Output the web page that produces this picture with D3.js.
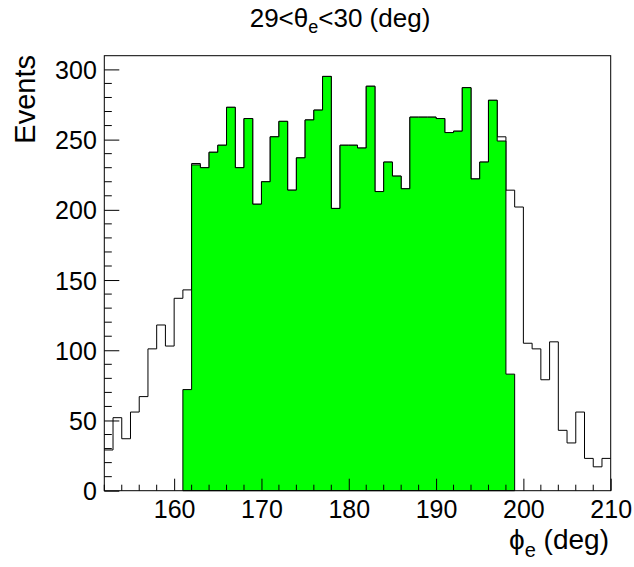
<!DOCTYPE html>
<html>
<head>
<meta charset="utf-8">
<script src="https://cdn.jsdelivr.net/npm/d3@7"></script>
<style>
  body { margin: 0; background: #fff; }
  svg text { font-family: "Liberation Sans", Arial, Helvetica, sans-serif; fill: #000; }
</style>
</head>
<body>
<div id="paint_zone"></div>
<script>
// bin lower edges (1 deg bins) and counts, all events
var phiLow = [152,153,154,155,156,157,158,159,160,161,162,163,164,165,166,167,168,169,170,171,
              172,173,174,175,176,177,178,179,180,181,182,183,184,185,186,187,188,189,190,191,
              192,193,194,195,196,197,198,199,200,201,202,203,204,205,206,207,208,209];
var allCounts = [29,52,37,56,67,101,118,103,137,143,233,230,241,246,273,230,265,204,220,252,
                 263,214,237,264,271,295,201,246,246,244,288,213,234,224,215,266,266,266,265,255,
                 256,287,222,234,278,252,214,202,105,101,79,106,43,34,56,23,17,23];

// events passing the cut (green)
var cutLow = [161,162,163,164,165,166,167,168,169,170,171,172,173,174,175,176,177,178,179,180,
              181,182,183,184,185,186,187,188,189,190,191,192,193,194,195,196,197,198];
var cutCounts = [72,232,230,241,246,273,230,265,204,220,252,263,214,237,264,271,295,201,246,246,
                 244,288,213,234,224,215,266,266,266,265,255,256,287,222,234,278,249,83];

var binWidth = 1;
var xRange = [152, 210];
var xMajor = [160,170,180,190,200,210];
var yMajor = [0,50,100,150,200,250,300];

var width = 634, height = 567;
// pad frame (note: "top" is reserved on window)
var frameL = 104.3, frameR = 610.7, frameT = 55.7, frameB = 490.7;

var svg = d3.select('#paint_zone').append('svg')
    .attr('width', width)
    .attr('height', height);

var x = d3.scaleLinear().domain(xRange).range([frameL, frameR]);
var y = d3.scaleLinear().domain([0, d3.max(allCounts) * 1.05]).range([frameB, frameT]);

function steps(lows, counts){
    var pts = [];
    lows.forEach(function(lo, i){
        pts.push([lo, counts[i]]);
        pts.push([lo + binWidth, counts[i]]);
    });
    return pts;
}

var line = d3.line().x(function(d){ return x(d[0]); }).y(function(d){ return y(d[1]); });

// outline histogram
svg.append('path')
    .attr('d', line(steps(phiLow, allCounts)))
    .attr('fill', 'none')
    .attr('stroke', '#000')
    .attr('stroke-width', 1);

// filled histogram
var cutPts = steps(cutLow, cutCounts);
cutPts.unshift([cutLow[0], 0]);
cutPts.push([cutLow[cutLow.length - 1] + binWidth, 0]);
svg.append('path')
    .attr('d', line(cutPts) + 'Z')
    .attr('fill', '#00ff00')
    .attr('stroke', '#000')
    .attr('stroke-width', 1);

// frame
svg.append('rect')
    .attr('x', frameL).attr('y', frameT)
    .attr('width', frameR - frameL).attr('height', frameB - frameT)
    .attr('fill', 'none').attr('stroke', '#000').attr('stroke-width', 1);

// x axis
var xMinor = d3.range(xRange[0], xRange[1] + 0.001, 2).filter(function(v){ return xMajor.indexOf(v) < 0; });
var xAxis = d3.axisBottom(x).tickValues(xMajor).tickSizeInner(-12).tickSizeOuter(0).tickPadding(20)
    .tickFormat(d3.format('d'));
var gx = svg.append('g').attr('transform', 'translate(0,' + frameB + ')').call(xAxis);
gx.select('.domain').remove();
gx.selectAll('.tick text').attr('font-size', 25).attr('dy', 0).attr('y', 27.5);
gx.selectAll('.minor').data(xMinor).enter().append('line')
    .attr('x1', function(d){ return x(d); }).attr('x2', function(d){ return x(d); })
    .attr('y1', 0).attr('y2', -6).attr('stroke', '#000');

// y axis
var yMinor = d3.range(0, 301, 10).filter(function(v){ return yMajor.indexOf(v) < 0; });
var yAxis = d3.axisLeft(y).tickValues(yMajor).tickSizeInner(-15).tickSizeOuter(0).tickPadding(22);
var gy = svg.append('g').attr('transform', 'translate(' + frameL + ',0)').call(yAxis);
gy.select('.domain').remove();
gy.selectAll('.tick text').attr('font-size', 25).attr('dy', 0).attr('y', 9).attr('x', -7.5);
gy.selectAll('.minor').data(yMinor).enter().append('line')
    .attr('y1', function(d){ return y(d); }).attr('y2', function(d){ return y(d); })
    .attr('x1', 0).attr('x2', 7.5).attr('stroke', '#000');
svg.selectAll('.tick line').attr('stroke', '#000');
svg.selectAll('.tick text').attr('fill', '#000');

// titles
var title = svg.append('text').attr('x', 340).attr('y', 27)
    .attr('text-anchor', 'middle').attr('font-size', 26);
title.append('tspan').text('29<\u03b8');
title.append('tspan').attr('font-size', 18).attr('dy', 6).text('e');
title.append('tspan').attr('dy', -6).text('<30 (deg)');

var xt = svg.append('text').attr('x', 609).attr('y', 549)
    .attr('text-anchor', 'end').attr('font-size', 28);
xt.append('tspan').text('\u03d5');
xt.append('tspan').attr('font-size', 20).attr('dy', 8).text('e');
xt.append('tspan').attr('dy', -8).text(' (deg)');

svg.append('text')
    .attr('transform', 'translate(35,55) rotate(-90)')
    .attr('text-anchor', 'end').attr('font-size', 29)
    .text('Events');
</script>
</body>
</html>
